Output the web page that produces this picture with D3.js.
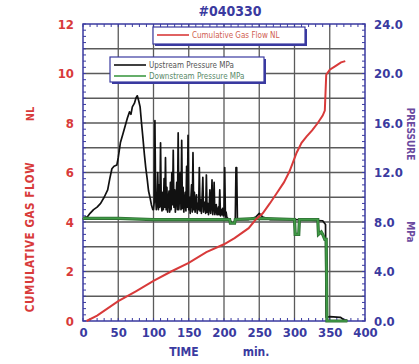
<!DOCTYPE html>
<html><head><meta charset="utf-8">
<script src="https://cdn.jsdelivr.net/npm/d3@7"></script>
<style>
html,body{margin:0;padding:0;background:#fff;}
svg{display:block;}
text{font-family:"Liberation Sans Narrow","DejaVu Sans Condensed","Liberation Sans",sans-serif;}
</style></head>
<body>
<svg id="c" width="419" height="364"></svg>
<script>
// ---- data ----
const title = "#040330";
const xTicks = [0,50,100,150,200,250,300,350,400];
const leftTicks = [0,2,4,6,8,10,12];
const rightTicks = [0,4,8,12,16,20,24];
const seriesNames = ["Cumulative Gas Flow NL","Upstream Pressure MPa","Downstream Pressure MPa"];
// time (min)
const gasT = [5,20,50,75,100,125,150,175,200,215,235,245,255,265,275,285,293,303,310,317,325,333,340,343,345,350,358,366,372];
// cumulative gas flow (NL)
const gasV = [0,0.22,0.8,1.2,1.62,2.0,2.35,2.78,3.1,3.35,3.75,4.1,4.35,4.75,5.17,5.6,6.05,6.8,7.2,7.45,7.7,8.0,8.3,8.5,9.95,10.15,10.3,10.45,10.5];
// upstream pressure (MPa)
const upT = [0,3,6,10,15,20,25,30,35,38,41,44,48,50,53,57,60,63,66,68,70,73,75,77,79,81,83,85,87,89,91,93,95,97,99,
  100,101,102,103,104,105,106,107,108,109,110,111,112,113,114,115,116,117,118,119,120,121,122,123,124,125,126,127,128,129,
  130,131,132,133,134,135,136,137,138,139,140,141,142,143,144,145,146,147,148,149,150,151,152,153,154,155,156,157,158,159,
  160,161,162,163,164,165,166,167,168,169,170,171,172,173,174,175,176,177,178,179,180,181,182,183,184,185,186,187,188,189,
  190,191,192,193,194,195,196,197,198,199,200,201,202,203,204,205,
  208,211,214,216,217,218,219,225,235,245,250,255,265,300,340,344,345,350,365,370,375];
const upV = [8.2,8.4,8.4,8.7,9.0,9.2,9.5,10.0,10.6,11.5,12.3,12.5,12.6,13.2,14.4,15.2,15.8,16.4,16.9,16.7,17.3,17.6,18.0,18.2,17.8,17.3,16.0,14.8,13.5,12.4,11.5,10.5,10.0,9.4,9.0,
  9.0,9.6,16.2,10.0,9.0,9.4,12.0,9.0,11.0,9.2,14.4,9.5,8.9,10.4,9.0,11.5,9.2,13.2,9.0,10.8,8.8,9.8,10.5,8.8,11.2,9.0,12.0,9.4,13.8,9.2,
  10.6,8.8,9.9,11.2,9.0,15.2,9.0,10.2,12.0,9.0,14.6,9.1,10.8,8.8,9.6,10.4,8.9,12.5,9.2,15.0,9.0,10.0,8.7,9.9,11.0,8.8,13.6,9.0,10.4,8.8,
  9.6,10.2,8.7,9.5,9.0,12.4,8.9,9.8,8.7,10.0,11.6,8.8,9.4,9.6,8.7,11.8,8.8,9.5,8.6,9.2,10.6,8.7,9.3,11.4,8.6,9.2,11.2,8.6,9.0,9.4,
  8.6,8.6,9.2,8.6,10.6,8.5,9.0,8.6,9.1,8.5,8.6,12.4,8.4,8.8,8.4,8.3,
  8.2,7.9,7.9,8.2,12.4,12.4,8.2,8.2,8.2,8.4,8.7,8.4,8.2,8.2,8.1,7.8,0.3,0.35,0.3,0.1,0.05];
// downstream pressure (MPa)
const dnT = [0,50,100,150,200,208,209,215,216,250,300,301,306,307,333,334,338,340,343,345,346,350,375];
const dnV = [8.3,8.3,8.2,8.2,8.2,8.2,7.9,7.9,8.2,8.3,8.2,7.0,7.0,8.2,8.2,7.0,7.2,7.0,6.6,6.6,0,0,0];

// ---- layout ----
const svg = d3.select("#c");
const L=83, R=365, T=24, B=321;
const x = d3.scaleLinear().domain([0,400]).range([L,R]);
const yL = d3.scaleLinear().domain([0,12]).range([B,T]);
const yR = d3.scaleLinear().domain([0,24]).range([B,T]);
const navy="#3a3aa0", red="#d83a3a", grid="#5a5a5a";

// grid
const gg = svg.append("g");
gg.selectAll("line.v").data(xTicks.slice(1,-1)).join("line")
  .attr("x1",d=>x(d)).attr("x2",d=>x(d)).attr("y1",T).attr("y2",B)
  .attr("stroke",grid).attr("stroke-width",1.3);
gg.selectAll("line.h").data(d3.range(1,12)).join("line")
  .attr("y1",d=>yL(d)).attr("y2",d=>yL(d)).attr("x1",L).attr("x2",R)
  .attr("stroke",grid).attr("stroke-width",1.3);

// minor ticks (inward)
const tk = svg.append("g").attr("stroke",navy).attr("stroke-width",1);
tk.selectAll("l1").data(d3.range(0,401,10)).join("line")
  .attr("x1",d=>x(d)).attr("x2",d=>x(d)).attr("y1",B).attr("y2",B-3);
tk.selectAll("l2").data(d3.range(0,401,10)).join("line")
  .attr("x1",d=>x(d)).attr("x2",d=>x(d)).attr("y1",T).attr("y2",T+3);
tk.selectAll("l3").data(d3.range(0,12.01,0.25)).join("line")
  .attr("y1",d=>yL(d)).attr("y2",d=>yL(d)).attr("x1",L).attr("x2",L+3);
tk.selectAll("l4").data(d3.range(0,24.01,0.5)).join("line")
  .attr("y1",d=>yR(d)).attr("y2",d=>yR(d)).attr("x1",R).attr("x2",R-3);

// frame
svg.append("rect").attr("x",L).attr("y",T).attr("width",R-L).attr("height",B-T)
  .attr("fill","none").attr("stroke",navy).attr("stroke-width",1.5);

// axes labels
const ax = svg.append("g").attr("transform",`translate(0,${B})`)
  .call(d3.axisBottom(x).tickValues(xTicks).tickSize(0).tickPadding(7).tickFormat(d3.format("d")));
ax.select(".domain").remove();
ax.selectAll("text").attr("fill",navy).attr("font-size",13).attr("font-weight","bold");

const al = svg.append("g").attr("transform",`translate(${L},0)`)
  .call(d3.axisLeft(yL).tickValues(leftTicks).tickSize(0).tickPadding(9));
al.select(".domain").remove();
al.selectAll("text").attr("fill",red).attr("font-size",13).attr("font-weight","bold");

const ar = svg.append("g").attr("transform",`translate(${R},0)`)
  .call(d3.axisRight(yR).tickValues(rightTicks).tickSize(0).tickPadding(9).tickFormat(d3.format(".1f")));
ar.select(".domain").remove();
ar.selectAll("text").attr("fill",navy).attr("font-size",13).attr("font-weight","bold");

// series
const lineL = d3.line().x(d=>x(d[0])).y(d=>yL(d[1]));
const lineR = d3.line().x(d=>x(d[0])).y(d=>yR(d[1]));
svg.append("path").datum(upT.map((t,i)=>[t,upV[i]])).attr("d",lineR)
  .attr("fill","none").attr("stroke","#111").attr("stroke-width",1.7).attr("stroke-linejoin","round");
svg.append("path").datum(dnT.map((t,i)=>[t,dnV[i]])).attr("d",lineR)
  .attr("fill","none").attr("stroke","#2f6f34").attr("stroke-width",3.2);
svg.append("path").datum(dnT.map((t,i)=>[t,dnV[i]])).attr("d",lineR)
  .attr("fill","none").attr("stroke","#3f9a45").attr("stroke-width",1.6);
svg.append("path").datum(gasT.map((t,i)=>[t,gasV[i]])).attr("d",lineL)
  .attr("fill","none").attr("stroke",red).attr("stroke-width",2);

// legends
function legend(x0,y0,w,h,items){
  const g = svg.append("g");
  g.append("rect").attr("x",x0+2).attr("y",y0+2).attr("width",w).attr("height",h).attr("fill",navy);
  g.append("rect").attr("x",x0).attr("y",y0).attr("width",w).attr("height",h)
    .attr("fill","#fff").attr("stroke",navy).attr("stroke-width",1.2);
  items.forEach((it,i)=>{
    const yy = y0+8+i*11;
    g.append("line").attr("x1",x0+4).attr("x2",x0+36).attr("y1",yy).attr("y2",yy)
      .attr("stroke",it.c).attr("stroke-width",1.6);
    g.append("text").attr("x",x0+39).attr("y",yy+3).text(it.t)
      .attr("font-size",8).attr("fill",it.tc);
  });
}
legend(153,27,152,17,[{t:seriesNames[0],c:red,tc:"#d06050"}]);
legend(110,57,154,25,[{t:seriesNames[1],c:"#111",tc:"#555"},{t:seriesNames[2],c:"#3f9a45",tc:"#5a8a6a"}]);

// titles
svg.append("text").attr("x",230).attr("y",16).attr("text-anchor","middle")
  .attr("fill",navy).attr("font-size",14).attr("font-weight","bold").text(title);
svg.append("text").attr("transform","translate(34,237) rotate(-90)").attr("text-anchor","middle")
  .attr("fill",red).attr("font-size",11.5).attr("font-weight","bold").attr("letter-spacing",0.6).text("CUMULATIVE GAS FLOW");
svg.append("text").attr("transform","translate(34,114) rotate(-90)").attr("text-anchor","middle")
  .attr("fill",red).attr("font-size",11).attr("font-weight","bold").text("NL");
svg.append("text").attr("x",184).attr("y",356).attr("text-anchor","middle")
  .attr("fill",navy).attr("font-size",12).attr("font-weight","bold").text("TIME");
svg.append("text").attr("x",256).attr("y",356).attr("text-anchor","middle")
  .attr("fill",navy).attr("font-size",12).attr("font-weight","bold").text("min.");
svg.append("text").attr("transform","translate(407,134) rotate(90)").attr("text-anchor","middle")
  .attr("fill","#6a4aa0").attr("font-size",10).attr("font-weight","bold").text("PRESSURE");
svg.append("text").attr("transform","translate(407,232) rotate(90)").attr("text-anchor","middle")
  .attr("fill","#6a4aa0").attr("font-size",10).attr("font-weight","bold").text("MPa");
</script>
</body></html>
